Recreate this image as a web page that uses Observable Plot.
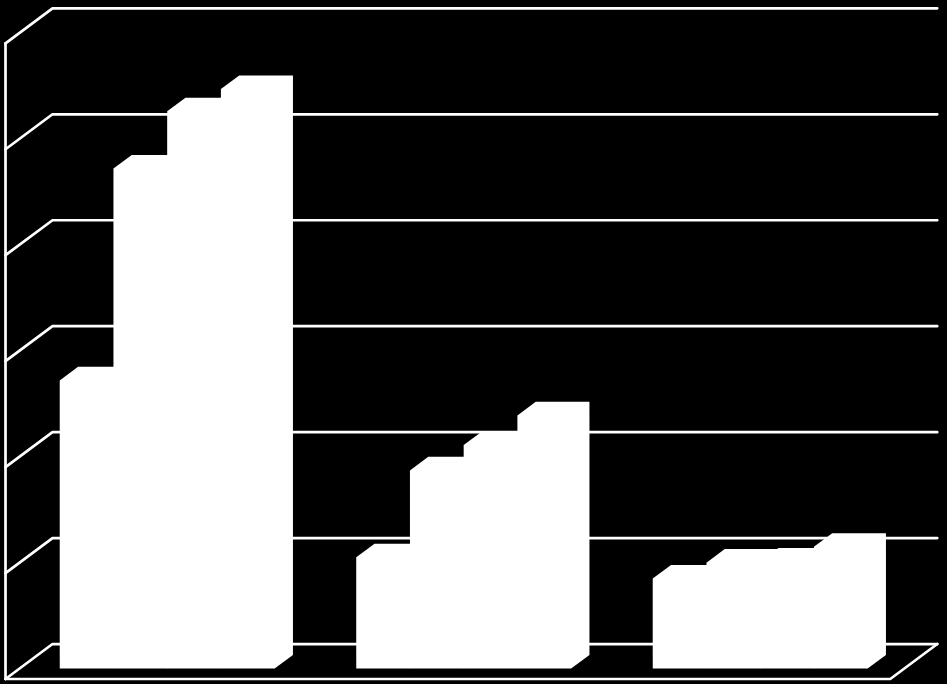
<!DOCTYPE html>
<html>
<head>
<meta charset="utf-8">
<style>
html,body{margin:0;padding:0;background:#000;}
svg{display:block;}
</style>
<script src="https://cdn.jsdelivr.net/npm/d3@7"></script>
<script src="https://cdn.jsdelivr.net/npm/@observablehq/plot@0.6"></script>
</head>
<body>
<div id="chart"></div>
<script>
// Values: one list per series, one entry per category.
const categories = [0, 1, 2];
const series1 = [27.2, 10.5, 8.5];
const series2 = [47.2, 18.7, 10.0];
const series3 = [52.6, 21.1, 10.1];
const series4 = [54.7, 23.9, 11.5];
const gridTicks = [0, 10, 20, 30, 40, 50, 60];

// Oblique projection: depth d in 0..1 shifts a point along both data axes.
const depthX = 0.1585, depthY = 3.3;
const floorEnd = 2.984;
const gap = 0.1358, barWidth = 0.1812;
const barNear = 0.297, barFar = 0.687;

const pt = (id, u, v, d) => ({id, u: u + depthX * d, v: v + depthY * d});

const frame = [];
for (const t of gridTicks) {
  const id = "grid" + t;
  frame.push(pt(id, 0, t, 0), pt(id, 0, t, 1), pt(id, floorEnd, t, 1));
}
const maxTick = d3.max(gridTicks);
frame.push(pt("wall", 0, 0, 0), pt("wall", 0, maxTick, 0));
frame.push(pt("floor", 0, 0, 0), pt("floor", floorEnd, 0, 0), pt("floor", floorEnd, 0, 1));

const bars = [];
[series1, series2, series3, series4].forEach((values, s) => {
  categories.forEach((c, i) => {
    const id = `bar${s}-${c}`;
    const x0 = c + gap + s * barWidth, x1 = x0 + barWidth, v = values[i];
    bars.push(
      pt(id, x0, 0, barNear), pt(id, x0, v, barNear), pt(id, x0, v, barFar),
      pt(id, x1, v, barFar), pt(id, x1, 0, barFar), pt(id, x1, 0, barNear)
    );
  });
});

const chart = Plot.plot({
  width: 947,
  height: 684,
  margin: 0,
  style: {background: "#000", overflow: "hidden"},
  x: {axis: null, domain: [-5 / 296.5, 942 / 296.5], range: [0, 947]},
  y: {axis: null, domain: [(678.5 - 684) / 10.595, 678.5 / 10.595], range: [684, 0]},
  marks: [
    Plot.line(frame, {x: "u", y: "v", z: "id", stroke: "#fff", strokeWidth: 2.7, curve: "linear"}),
    Plot.line(bars, {x: "u", y: "v", z: "id", fill: "#fff", stroke: "none", curve: "linear"})
  ]
});
document.getElementById("chart").append(chart);
</script>
</body>
</html>
